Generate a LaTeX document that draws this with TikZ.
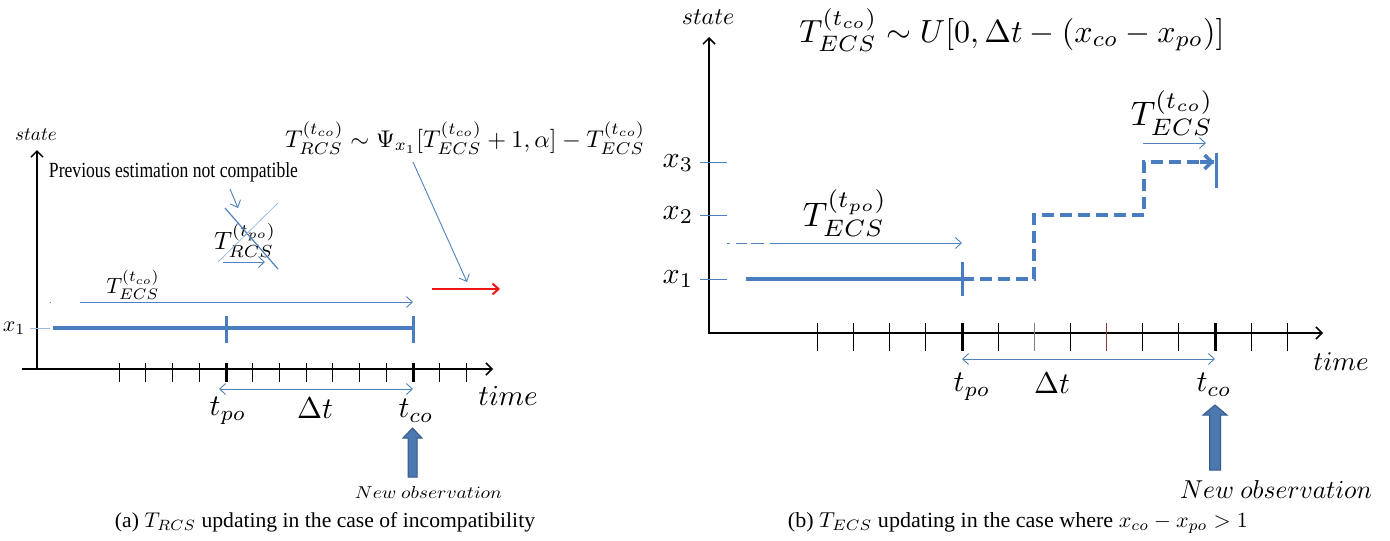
\documentclass[tikz,border=0pt]{standalone}
\usepackage[no-math]{fontspec}
\setmainfont{Liberation Serif}
\usepackage{graphicx}
\usetikzlibrary{arrows.meta}
\definecolor{lineblue}{HTML}{4A7DC0}
\definecolor{thinblue}{HTML}{4F81BD}
\definecolor{lightblue}{HTML}{9DB9E0}
\definecolor{bigfill}{HTML}{4C78B0}
\definecolor{bigdraw}{HTML}{35588A}
\definecolor{redarr}{HTML}{F01515}
\definecolor{tickbrown}{HTML}{8B3A3A}
\newcommand{\ml}[2]{\scalebox{\fpeval{#1/10}}{#2}}
\tikzset{
  lab/.style={inner sep=0pt, outer sep=0pt},
  axisarrow/.style={black, line width=1.5pt, -{Straight Barb[length=6pt,width=12pt,line width=1.5pt]}},
  tickmark/.style={black, line width=0.9pt},
  bigtick/.style={black, line width=3pt},
  bluebar/.style={lineblue, line width=3.2pt},
  barend/.style={lineblue, line width=3pt},
  thinarrow/.style={thinblue, line width=0.9pt, -{Straight Barb[length=6pt,width=11pt,line width=0.9pt]}},
  twoarrow/.style={thinblue, line width=0.9pt, {Straight Barb[length=6pt,width=11pt,line width=0.9pt]}-{Straight Barb[length=6pt,width=11pt,line width=0.9pt]}},
  statetick/.style={thinblue, line width=1pt},
  stepdash/.style={lineblue, line width=3.5pt, dash pattern=on 12pt off 6pt},
  obsarrow/.style={fill=bigfill, draw=bigdraw, line width=1pt},
}
\begin{document}
\begin{tikzpicture}[x=1pt,y=-1pt]
\useasboundingbox (0,0) rectangle (1390,541);

%%%%%%%%%%%%%%%% Panel (a) %%%%%%%%%%%%%%%%
\coordinate (aYb) at (37,369);
\coordinate (aYt) at (37,150);
\coordinate (aXl) at (22,369);
\coordinate (aXr) at (493,369);
\draw[axisarrow] (aYb) -- (aYt);
\draw[axisarrow] (aXl) -- (aXr);
\node[lab] (astate) at (36,135) {\ml{19}{$state$}};
\node[lab] (atime) at (508,396) {\ml{29}{$time$}};
\foreach \i in {-4,...,9}{
  \pgfmathsetmacro{\xx}{226+\i*26.714}
  \ifnum\i=0\relax
    \draw[bigtick] (\xx,363) -- (\xx,382);
  \else\ifnum\i=7\relax
    \draw[bigtick] (\xx,363) -- (\xx,382);
  \else
    \draw[tickmark] (\xx,363) -- (\xx,382);
  \fi\fi
}
\node[lab] (ax1) at (14,328) {\ml{22}{$x_1$}};
\draw[statetick, lightblue] (30,328) -- (50,328);
\coordinate (aBs) at (53,328);
\coordinate (aBe) at (413,328);
\draw[bluebar] (aBs) -- (aBe);
\draw[barend] (226,316) -- (226,343);
\draw[barend] (413,316) -- (413,343);
\draw[thinblue, line width=1pt] (49.5,302) -- (51,302);
\coordinate (aEs) at (80,302);
\coordinate (aEe) at (413,302);
\draw[thinarrow] (aEs) -- (aEe);
\node[lab] (aTecs) at (133,285) {\ml{22}{$T_{ECS}^{(t_{co})}$}};
\node[lab] (aTrcs) at (245,240) {\ml{25}{$T_{RCS}^{(t_{po})}$}};
\draw[thinblue, line width=1.2pt] (225,208) -- (278,269);
\draw[lightblue, line width=0.8pt] (278,203) -- (218,262);
\coordinate (aRs) at (223,262);
\coordinate (aRe) at (265,262);
\draw[thinarrow] (aRs) -- (aRe);
\node[lab] (aprev) at (173.5,172) {\resizebox{249pt}{15pt}{Previous estimation not compatible}};
\coordinate (aPs) at (230,189);
\coordinate (aPe) at (238,208);
\draw[thinarrow] (aPs) -- (aPe);
\node[lab] (aform) at (465,138) {\resizebox{360pt}{!}{$T_{RCS}^{(t_{co})}\sim\Psi_{x_1}[T_{ECS}^{(t_{co})}+1,\alpha]-T_{ECS}^{(t_{co})}$}};
\coordinate (aFs) at (413,162);
\coordinate (aFe) at (467,282);
\draw[thinarrow] (aFs) -- (aFe);
\coordinate (aRed1) at (432,289);
\coordinate (aRed2) at (500,289);
\draw[redarr, line width=2pt, -{Straight Barb[length=6pt,width=11pt,line width=2pt]}] (aRed1) -- (aRed2);
\coordinate (aD1) at (219,389);
\coordinate (aD2) at (413,389);
\draw[twoarrow] (aD1) -- (aD2);
\node[lab] (atpo) at (228,411) {\ml{30}{$t_{po}$}};
\node[lab] (adt) at (315,408) {\ml{30}{$\Delta t$}};
\node[lab] (atco) at (416,411) {\ml{30}{$t_{co}$}};
\draw[obsarrow] (408,477) -- (408,438) -- (403,438) -- (412.5,428) -- (422,438) -- (417,438) -- (417,477) -- cycle;
\node[lab] (aobs) at (428.5,492) {\resizebox{147pt}{12pt}{$New\ observation$}};
\node[lab] (acap) at (325,522) {\resizebox{420pt}{15pt}{(a) $T_{RCS}$ updating in the case of incompatibility}};

%%%%%%%%%%%%%%%% Panel (b) %%%%%%%%%%%%%%%%
\coordinate (bYb) at (709,333);
\coordinate (bYt) at (709,37);
\coordinate (bXl) at (708.25,333);
\coordinate (bXr) at (1323,333);
\draw[axisarrow] (bYb) -- (bYt);
\draw[axisarrow] (bXl) -- (bXr);
\node[lab] (bstate) at (708,17) {\ml{24}{$state$}};
\node[lab] (btime) at (1341,362) {\ml{27}{$time$}};
\foreach \i in {-4,...,9}{
  \pgfmathsetmacro{\xx}{962+\i*36.143}
  \ifnum\i=0\relax
    \draw[bigtick] (\xx,323) -- (\xx,351);
  \else\ifnum\i=7\relax
    \draw[bigtick] (\xx,323) -- (\xx,351);
  \else\ifnum\i=2\relax
    \draw[gray, line width=0.9pt] (\xx,323) -- (\xx,351);
  \else\ifnum\i=4\relax
    \draw[tickbrown, line width=0.9pt] (\xx,323) -- (\xx,351);
  \else
    \draw[tickmark] (\xx,323) -- (\xx,351);
  \fi\fi\fi\fi
}
\node[lab] (bx3) at (678,163) {\ml{30}{$x_3$}};
\node[lab] (bx2) at (678,215) {\ml{30}{$x_2$}};
\node[lab] (bx1) at (678,279) {\ml{30}{$x_1$}};
\draw[statetick] (700,162) -- (727,162);
\draw[statetick] (700,215) -- (727,215);
\draw[statetick] (700,279) -- (727,279);
\coordinate (bBs) at (746,279);
\coordinate (bBe) at (962,279);
\draw[bluebar, line width=3.5pt] (bBs) -- (bBe);
\draw[barend] (962,262) -- (962,296);
\coordinate (bS1) at (1034,279);
\coordinate (bS2) at (1034,215);
\coordinate (bS3) at (1144,215);
\coordinate (bS4) at (1144,162);
\coordinate (bS5) at (1214,162);
\coordinate (bS6) at (1200,162);
\draw[stepdash] (bBe) -- (bS1) -- (bS2) -- (bS3) -- (bS4) -- (bS5);
\draw[lineblue, line width=3.5pt, -{Straight Barb[length=7pt,width=14pt,line width=3.5pt]}] (bS6) -- (bS5);
\draw[barend] (1216,153) -- (1216,188);
\coordinate (bEs) at (727,243);
\coordinate (bEe) at (962,243);
\draw[thinarrow, dash pattern=on 3pt off 6pt on 11pt off 4pt on 13pt off 6pt on 400pt] (bEs) -- (bEe);
\node[lab] (bTpo) at (845,213) {\ml{34}{$T_{ECS}^{(t_{po})}$}};
\coordinate (bCs) at (1143,143);
\coordinate (bCe) at (1206,143);
\draw[thinarrow] (bCs) -- (bCe);
\node[lab] (bTco) at (1172,113) {\ml{34}{$T_{ECS}^{(t_{co})}$}};
\node[lab] (bform) at (1012,30) {\resizebox{425pt}{!}{$T_{ECS}^{(t_{co})}\sim U[0,\Delta t-(x_{co}-x_{po})]$}};
\coordinate (bD1) at (962,359);
\coordinate (bD2) at (1215,359);
\draw[twoarrow] (bD1) -- (bD2);
\node[lab] (btpo) at (972,387) {\ml{30}{$t_{po}$}};
\node[lab] (bdt) at (1052,383) {\ml{30}{$\Delta t$}};
\node[lab] (btco) at (1214,385) {\ml{30}{$t_{co}$}};
\draw[obsarrow] (1209.5,470) -- (1209.5,415) -- (1203,415) -- (1215,405) -- (1227,415) -- (1220.5,415) -- (1220.5,470) -- cycle;
\node[lab] (bobs) at (1276,489) {\resizebox{192pt}{18pt}{$New\ observation$}};
\node[lab] (bcap) at (1018,523) {\resizebox{460pt}{15pt}{(b) $T_{ECS}$ updating in the case where $x_{co}-x_{po}>1$}};
\end{tikzpicture}
\end{document}
